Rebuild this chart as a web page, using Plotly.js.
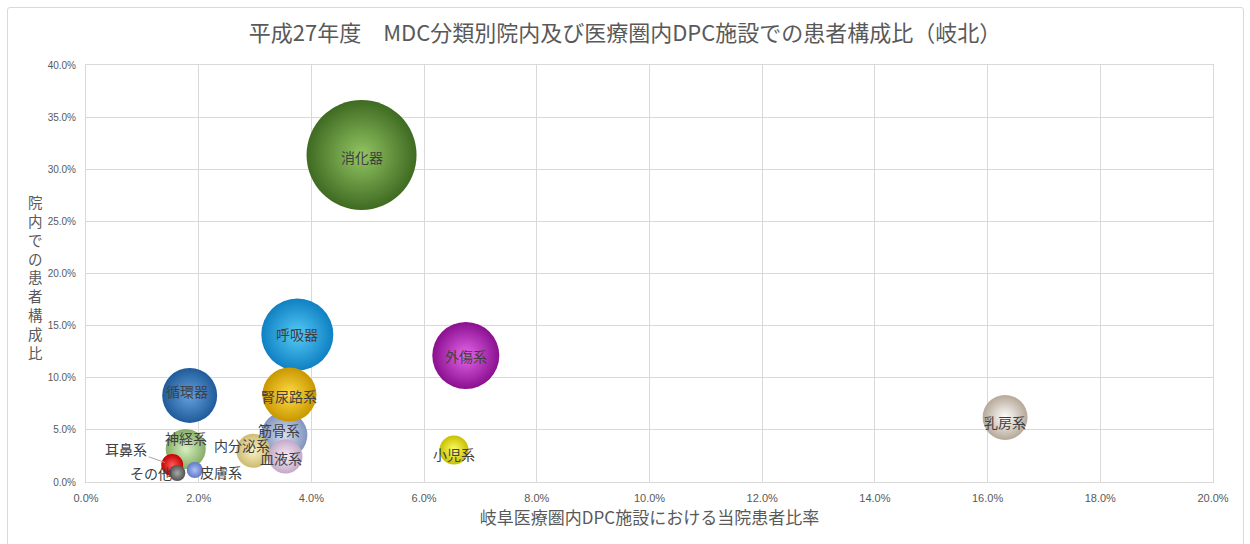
<!DOCTYPE html>
<html>
<head>
<meta charset="utf-8">
<script src="https://cdn.plot.ly/plotly-3.0.1.min.js"></script>
<style>
  html, body { margin: 0; padding: 0; background: #ffffff; }
  #wrap { position: relative; width: 1250px; height: 544px; overflow: hidden; }
  #frame { position: absolute; left: 7px; top: 7px; width: 1235px; height: 560px; border: 1px solid #d9d9d9; border-radius: 3px; pointer-events: none; }
  #chart { position: absolute; left: 0; top: 0; width: 1250px; height: 544px; }
</style>
</head>
<body>
<div id="wrap">
  <div id="chart"></div>
  <div id="frame"></div>
</div>
<script>
// ---- Data (MDC order) ----
const categories    = ['神経系','耳鼻系','呼吸器','循環器','消化器','筋骨系','皮膚系','乳房系','内分泌系','腎尿路系','血液系','小児系','外傷系','その他'];
const hospitalShare = [1.77, 1.53, 3.75, 1.84, 4.89, 3.52, 1.93, 16.31, 2.97, 3.61, 3.54, 6.53, 6.74, 1.62]; // 岐阜医療圏内DPC施設における当院患者比率 (%)
const internalShare = [3.17, 1.63, 14.15, 8.3, 31.37, 4.5, 1.15, 6.19, 3.0, 8.39, 2.45, 3.07, 12.13, 0.86]; // 院内での患者構成比 (%)
const bubbleSize    = [160, 48, 518, 302, 1210, 212, 26, 202, 116, 292, 116, 84, 449, 26];
const xTicks = [0, 2, 4, 6, 8, 10, 12, 14, 16, 18, 20];
const yTicks = [0, 5, 10, 15, 20, 25, 30, 35, 40];

const chartTitle = '平成27年度　MDC分類別院内及び医療圏内DPC施設での患者構成比（岐北）';
const xTitle = '岐阜医療圏内DPC施設における当院患者比率';
const yTitle = '院内での患者構成比';

// ---- Styles ----
const outerColors = ['#86ad66','#c40000','#0f80c2','#1f5b9a','#3f6a22','#8294bd','#5f78c8','#b5a898','#cdbb72','#c99700','#c4a9c6','#c8c000','#8a108f','#505050'];
const innerColors = ['#d6efc0','#ff5a5a','#55cbf7','#66a2dc','#92c662','#d6dff2','#aebff2','#ffffff','#fbf3c6','#ffdc45','#faedfa','#ffff66','#e565ec','#a8a8a8'];
// label offsets in px [xshift, yshift]
const labelShift = [[0,11],[0,0],[0,0],[-3,4],[0,-2],[-5,5],[26,-2],[0,-5],[-11,6],[0,-1],[-4,-2],[0,-4],[0,0],[-26,0]];

const CJK = '"Noto Sans CJK JP", "Noto Sans", sans-serif';
const L = 86, R = 37, T = 65, B = 62, W = 1250, H = 544;
const pw = W - L - R, ph = H - T - B;
const pxToPaperX = px => (px - L) / pw;
const pxToPaperY = py => (H - B - py) / ph;

const trace = {
  type: 'scatter',
  mode: 'markers',
  x: hospitalShare,
  y: internalShare,
  text: categories,
  hoverinfo: 'text',
  marker: {
    size: bubbleSize,
    sizemode: 'area',
    sizeref: 0.2,
    color: outerColors,
    opacity: 1,
    line: { width: 0 },
    gradient: { type: 'radial', color: innerColors }
  },
  showlegend: false
};

const annotations = [];
categories.forEach((c, i) => {
  if (c === '耳鼻系') {
    annotations.push({
      x: hospitalShare[i], y: internalShare[i], xref: 'x', yref: 'y',
      text: c, showarrow: true, arrowhead: 0, arrowwidth: 1, arrowcolor: '#a6a6a6',
      ax: -46, ay: -16, standoff: 8,
      font: { family: CJK, size: 14, color: '#404040' }
    });
  } else {
    annotations.push({
      x: hospitalShare[i], y: internalShare[i], xref: 'x', yref: 'y',
      text: c, showarrow: false,
      xshift: labelShift[i][0], yshift: labelShift[i][1],
      font: { family: CJK, size: 14, color: '#404040' }
    });
  }
});
// stacked vertical y-axis title
annotations.push({
  xref: 'paper', yref: 'paper',
  x: pxToPaperX(35), y: pxToPaperY(277),
  xanchor: 'center', yanchor: 'middle',
  text: Array.from(yTitle).join('<br>'), showarrow: false,
  font: { family: CJK, size: 14.5, color: '#595959' }
});

const axisCommon = {
  showgrid: true, gridcolor: '#d9d9d9', gridwidth: 1,
  zeroline: false,
  showline: true, linecolor: '#d9d9d9', linewidth: 1, mirror: true,
  ticks: 'outside', tickcolor: 'rgba(0,0,0,0)', ticklen: 6,
  fixedrange: true
};

const layout = {
  width: W, height: H,
  margin: { l: L, r: R, t: T, b: B },
  paper_bgcolor: '#ffffff', plot_bgcolor: '#ffffff',
  title: {
    text: chartTitle,
    x: 0.5, xref: 'container', xanchor: 'center',
    y: 1 - 33 / H, yref: 'container', yanchor: 'middle',
    font: { family: CJK, size: 22, color: '#595959' }
  },
  xaxis: Object.assign({}, axisCommon, {
    range: [0, 20],
    tickvals: xTicks,
    ticktext: xTicks.map(v => v.toFixed(1) + '%'),
    tickfont: { family: '"Liberation Sans Narrow", "Liberation Sans", sans-serif', size: 11, color: '#595959' },
    title: { text: xTitle, standoff: 8, font: { family: CJK, size: 17, color: '#595959' } }
  }),
  yaxis: Object.assign({}, axisCommon, {
    range: [0, 40],
    tickvals: yTicks,
    ticktext: yTicks.map(v => v.toFixed(1) + '%'),
    tickfont: { family: '"Liberation Sans", sans-serif', size: 10, color: '#595959' },
    ticklen: 7
  }),
  annotations: annotations,
  hovermode: 'closest'
};

Plotly.newPlot('chart', [trace], layout, { displayModeBar: false, responsive: false });
</script>
</body>
</html>
